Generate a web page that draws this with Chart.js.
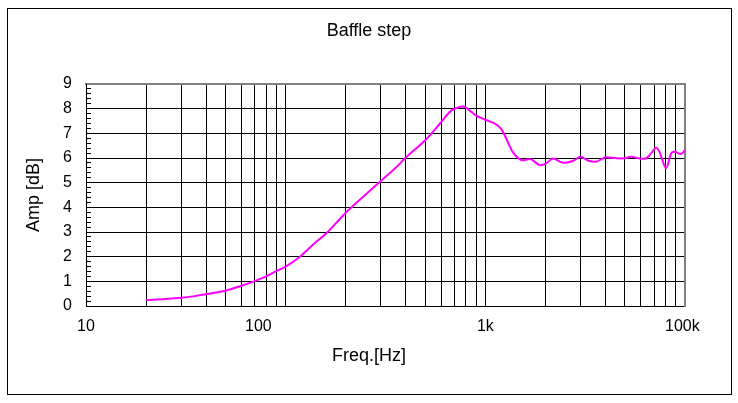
<!DOCTYPE html>
<html>
<head>
<meta charset="utf-8">
<title>Baffle step</title>
<script src="https://cdn.jsdelivr.net/npm/chart.js@4/dist/chart.umd.min.js"></script>
<style>
    html, body { margin: 0; padding: 0; background: #fff; }
    .wrap { position: relative; width: 738px; height: 403px; }
    .frame {
        position: absolute;
        left: 7px;
        top: 8px;
        width: 725px;
        height: 387px;
        box-sizing: border-box;
        border: 1px solid #000;
        pointer-events: none;
    }
</style>
</head>
<body>
<div class="wrap">
    <canvas id="baffleChart" width="738" height="403"></canvas>
    <div class="frame"></div>
</div>
<script>
// 频率 (Hz)
const freqs = [20, 25, 30, 35, 40, 50, 60, 70, 80, 90, 100, 117, 140, 160, 200, 250, 295, 350, 400, 500,
    600, 675, 757, 800, 900, 1000, 1110, 1200, 1295, 1370, 1510, 1690, 1860, 2000, 2180, 2440, 2740, 3000,
    3260, 3590, 4000, 4520, 5000, 5370, 5900, 6400, 6770, 7170, 7450, 8040, 8520, 8850, 9560, 10000];

// 幅度 (dB)
const amps = [0.24, 0.28, 0.33, 0.40, 0.48, 0.62, 0.82, 1.01, 1.20, 1.42, 1.60, 1.98, 2.55, 2.95, 3.78, 4.50, 5.02, 5.55, 6.02, 6.72,
    7.45, 7.92, 8.08, 8.04, 7.72, 7.55, 7.40, 7.18, 6.66, 6.25, 5.92, 5.95, 5.72, 5.76, 5.98, 5.81, 5.88, 6.05,
    5.90, 5.85, 6.03, 5.99, 5.99, 6.05, 5.98, 5.99, 6.20, 6.42, 6.25, 5.58, 6.18, 6.25, 6.16, 6.32];

// 竖网格线 (Hz)
const gridFreqs = [20, 30, 40, 50, 60, 70, 80, 90, 100, 200, 300, 400, 500, 600, 700, 800, 900, 1000,
    2000, 3000, 4000, 5000, 6000, 7000, 8000, 9000];

// 横轴刻度文字 和 它们在图上所处的频率
const xTickLabels = ['10', '100', '1k', '100k'];
const xTickAt = [10, 73, 1000, 9700];

// 纵轴: 0..9 dB, 小刻度每 0.2 dB
const yMin = 0;
const yMax = 9;
const yMinorStep = 0.2;

const FONT = "'Liberation Sans', Arial, sans-serif";
Chart.defaults.font.family = FONT;
Chart.defaults.color = '#000';

const isWhole = v => Math.abs(v - Math.round(v)) < 1e-6;

const ctx = document.getElementById('baffleChart').getContext('2d');
const baffleChart = new Chart(ctx, {
    type: 'line',
    data: {
        datasets: [{
            label: 'Baffle step',
            data: freqs.map((f, i) => ({ x: f, y: amps[i] })),
            xAxisID: 'x',
            yAxisID: 'y',
            borderColor: '#ff00ff',
            borderWidth: 2,
            pointRadius: 0,
            tension: 0.3,
            fill: false
        }]
    },
    options: {
        responsive: false,
        animation: false,
        layout: { padding: 0 },
        plugins: {
            legend: { display: false },
            tooltip: { enabled: false },
            title: {
                display: true,
                text: 'Baffle step',
                color: '#000',
                font: { size: 18, weight: 'normal' },
                padding: { top: 20, bottom: 0 }
            },
            subtitle: {
                display: true,
                position: 'bottom',
                text: 'Freq.[Hz]',
                color: '#000',
                font: { size: 18, weight: 'normal' },
                padding: { top: 0, bottom: 36 }
            }
        },
        scales: {
            x: {
                type: 'logarithmic',
                position: 'bottom',
                min: 10,
                max: 10000,
                bounds: 'data',
                afterBuildTicks: scale => {
                    scale.ticks = gridFreqs.map(v => ({ value: v }));
                },
                afterFit: scale => { scale.height = 0; },
                ticks: { display: false },
                grid: { color: '#000', lineWidth: 1, drawTicks: false },
                border: { color: '#000', width: 1 }
            },
            xt: {
                type: 'logarithmic',
                position: 'bottom',
                min: 10,
                max: 10000,
                bounds: 'data',
                afterBuildTicks: scale => {
                    scale.ticks = xTickAt.map(v => ({ value: v }));
                },
                afterFit: scale => { scale.height = 39.4; },
                ticks: {
                    autoSkip: false,
                    maxRotation: 0,
                    padding: 11,
                    font: { size: 16 },
                    callback: (v, i) => xTickLabels[i]
                },
                grid: { display: false, drawTicks: false },
                border: { display: false }
            },
            xtop: {
                type: 'linear',
                position: 'top',
                afterFit: scale => { scale.height = 42.4; },
                ticks: { display: false },
                grid: { display: false, drawTicks: false },
                border: { color: '#808080', width: 2 }
            },
            y: {
                type: 'linear',
                position: 'left',
                min: yMin,
                max: yMax,
                afterFit: scale => { scale.width = 86; },
                // 小刻度: 每 0.2 一个刻度, 只有整数写数字
                afterBuildTicks: scale => {
                    const ticks = [];
                    const n = Math.round((yMax - yMin) / yMinorStep);
                    for (let i = 0; i <= n; i++) {
                        ticks.push({ value: yMin + i * yMinorStep });
                    }
                    scale.ticks = ticks;
                },
                ticks: {
                    autoSkip: false,
                    padding: 19,
                    font: { size: 16 },
                    callback: v => isWhole(v) ? String(Math.round(v)) : ''
                },
                grid: {
                    color: c => (c.tick && isWhole(c.tick.value) && c.tick.value > yMin && c.tick.value < yMax) ? '#000' : 'rgba(0,0,0,0)',
                    tickColor: '#000',
                    tickWidth: 1,
                    tickLength: -5,   // 刻度朝图内画
                    lineWidth: 1
                },
                border: { color: '#000', width: 1 },
                title: {
                    display: true,
                    text: 'Amp [dB]',
                    color: '#000',
                    font: { size: 18 },
                    padding: { top: 23, bottom: 0 }
                }
            },
            yr: {
                type: 'linear',
                position: 'right',
                afterFit: scale => { scale.width = 53; },
                ticks: { display: false },
                grid: { display: false, drawTicks: false },
                border: { color: '#808080', width: 2 }
            }
        }
    }
});
</script>
</body>
</html>
